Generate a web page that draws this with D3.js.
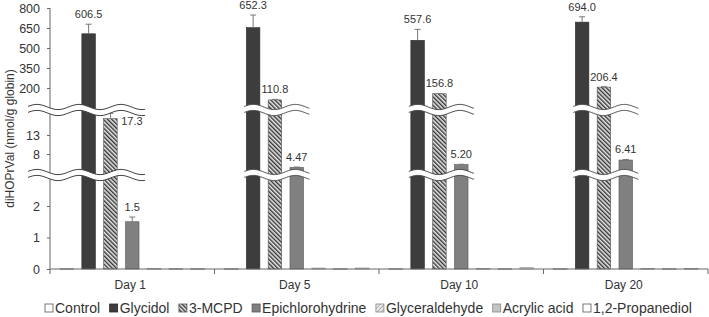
<!DOCTYPE html>
<html>
<head>
<meta charset="utf-8">
<script src="https://cdn.jsdelivr.net/npm/d3@7"></script>
<style>
  body { margin: 0; background: #fff; }
  text { font-family: "Liberation Sans", Arial, sans-serif; fill: #333; }
</style>
</head>
<body>
<div id="chart"></div>
<script>
const days = ["Day 1", "Day 5", "Day 10", "Day 20"];
const seriesNames = ["Control", "Glycidol", "3-MCPD", "Epichlorohydrine", "Glyceraldehyde", "Acrylic acid", "1,2-Propanediol"];

// values per series (one per day)
const control = [0.01, 0.01, 0.01, 0.01];
const glycidol = [606.5, 652.3, 557.6, 694.0];
const mcpd = [17.3, 110.8, 156.8, 206.4];
const epichloro = [1.5, 4.47, 5.20, 6.41];
const glyceraldehyde = [0.02, 0.03, 0.02, 0.02];
const acrylic = [0.01, 0.01, 0.01, 0.01];
const propanediol = [0.01, 0.03, 0.04, 0.02];

// error bars (upper only)
const glycidolErr = [72, 95, 82, 40];
const mcpdErr = [1.4, 4, 2, 3];
const epichloroErr = [0.15, 0.1, 0.1, 0.15];

// labels shown above bars
const labelText = {
  "Glycidol": ["606.5", "652.3", "557.6", "694.0"],
  "3-MCPD": ["17.3", "110.8", "156.8", "206.4"],
  "Epichlorohydrine": ["1.5", "4.47", "5.20", "6.41"]
};

const lowTicks = [0, 1, 2];
const midTicks = [8, 13];
const highTicks = [200, 350, 500, 650, 800];

const allValues = [control, glycidol, mcpd, epichloro, glyceraldehyde, acrylic, propanediol];
const allErr = [null, glycidolErr, mcpdErr, epichloroErr, null, null, null];

const width = 709, height = 317;
const left = 50, right = 708, baseY = 269;
const break1 = 110, break2 = 175;

const svg = d3.select("#chart").append("svg")
  .attr("width", width).attr("height", height);

const defs = svg.append("defs");
const p1 = defs.append("pattern").attr("id", "hatchMcpd")
  .attr("patternUnits", "userSpaceOnUse").attr("width", 3).attr("height", 3)
  .attr("patternTransform", "rotate(-45)");
p1.append("rect").attr("width", 3).attr("height", 3).attr("fill", "#e8e8e8");
p1.append("line").attr("x1", 0.7).attr("y1", 0).attr("x2", 0.7).attr("y2", 3)
  .attr("stroke", "#333").attr("stroke-width", 1.4);

const p2 = defs.append("pattern").attr("id", "hatchGly")
  .attr("patternUnits", "userSpaceOnUse").attr("width", 3).attr("height", 3)
  .attr("patternTransform", "rotate(45)");
p2.append("rect").attr("width", 3).attr("height", 3).attr("fill", "#eee");
p2.append("line").attr("x1", 0.5).attr("y1", 0).attr("x2", 0.5).attr("y2", 3)
  .attr("stroke", "#999").attr("stroke-width", 0.8);

const fills = ["#fff", "#3d3d3d", "url(#hatchMcpd)", "#808080", "url(#hatchGly)", "#c4c4c4", "#fff"];
const strokes = ["#777", "#2a2a2a", "#555", "#555", "#888", "#888", "#777"];

// scales
const x0 = d3.scaleBand().domain(days).range([left, right]).padding(0);
const x1 = d3.scaleBand().domain(seriesNames).range([0, x0.bandwidth()])
  .paddingInner(0.38).paddingOuter(0.46);

const yLow = d3.scaleLinear().domain([0, 2]).range([baseY, 206]);
const yMid = d3.scaleLinear().domain([8, 13]).range([154, 135]);
const yHigh = d3.scaleLinear().domain([200, 800]).range([88, 8]);

function y(v) {
  if (v <= yLow.invert(break2)) return yLow(v);
  if (v <= yMid.invert(break1)) return yMid(v);
  return yHigh(v);
}

// bars
const rows = [];
seriesNames.forEach((s, si) => {
  days.forEach((d, di) => {
    rows.push({ s, si, d, di, v: allValues[si][di], e: allErr[si] ? allErr[si][di] : 0 });
  });
});

svg.append("g").selectAll("rect").data(rows).enter().append("rect")
  .attr("x", r => x0(r.d) + x1(r.s))
  .attr("y", r => y(r.v))
  .attr("width", x1.bandwidth())
  .attr("height", r => Math.max(0.8, baseY - y(r.v)))
  .attr("fill", r => fills[r.si])
  .attr("stroke", r => strokes[r.si])
  .attr("stroke-width", 0.6);

// error bars
const errRows = rows.filter(r => r.e > 0);
const eg = svg.append("g").attr("stroke", "#777").attr("stroke-width", 1);
errRows.forEach(r => {
  const cx = x0(r.d) + x1(r.s) + x1.bandwidth() / 2;
  const yt = y(r.v + r.e);
  eg.append("line").attr("x1", cx).attr("x2", cx).attr("y1", y(r.v)).attr("y2", yt);
  eg.append("line").attr("x1", cx - 3).attr("x2", cx + 3).attr("y1", yt).attr("y2", yt);
});

// axes
const axisColor = "#666";
svg.append("line").attr("x1", left).attr("x2", left).attr("y1", yHigh(800)).attr("y2", baseY)
  .attr("stroke", axisColor);
svg.append("line").attr("x1", left).attr("x2", right).attr("y1", baseY).attr("y2", baseY)
  .attr("stroke", axisColor);

[[yLow, lowTicks], [yMid, midTicks], [yHigh, highTicks]].forEach(([sc, tv]) => {
  const g = svg.append("g").attr("transform", `translate(${left},0)`)
    .call(d3.axisLeft(sc).tickValues(tv).tickFormat(d3.format("d")).tickSize(3).tickPadding(7));
  g.select(".domain").remove();
  g.selectAll("line").attr("stroke", axisColor);
  g.selectAll("text").attr("font-size", 12.5).attr("fill", "#333")
    .style("font-family", '"Liberation Sans", Arial, sans-serif');
});

// x-axis group ticks
const bounds = days.map(d => x0(d)).concat([x0(days[days.length - 1]) + x0.bandwidth()]);
svg.append("g").selectAll("line").data(bounds).enter().append("line")
  .attr("x1", d => d).attr("x2", d => d).attr("y1", baseY).attr("y2", baseY + 5)
  .attr("stroke", axisColor);

svg.append("g").selectAll("text").data(days).enter().append("text")
  .attr("x", d => x0(d) + x0.bandwidth() / 2 - 2)
  .attr("y", 289)
  .attr("text-anchor", "middle")
  .attr("font-size", 12)
  .text(d => d);

// breaks (wavy)
const amp = 2.6, period = 42, gap = 6;
function wavePath(xa, xb, yc, phase) {
  return d3.range(xa, xb + 0.5, 1).map(xx => [xx, yc - amp * Math.cos(2 * Math.PI * (xx - phase) / period)]);
}
days.forEach((d, di) => {
  const gx = x0(d);
  const xa = di === 0 ? left - 22 : gx + x1("Glycidol") - 2;
  const xb = gx + x1("Epichlorohydrine") + x1.bandwidth() + 6;
  [break1, break2].forEach(yc => {
    const top = wavePath(xa, xb, yc - gap / 2, xa + 9);
    const bot = wavePath(xa, xb, yc + gap / 2, xa + 9);
    const area = top.concat(bot.slice().reverse());
    svg.append("path").attr("d", d3.line()(area) + "Z").attr("fill", "#fff").attr("stroke", "none");
    svg.append("path").attr("d", d3.line()(top)).attr("fill", "none").attr("stroke", "#444").attr("stroke-width", 1);
    svg.append("path").attr("d", d3.line()(bot)).attr("fill", "none").attr("stroke", "#444").attr("stroke-width", 1);
  });
});

// value labels
const lg = svg.append("g");
rows.filter(r => labelText[r.s]).forEach(r => {
  const bx = x0(r.d) + x1(r.s);
  const top = y(r.v + r.e);
  const t = labelText[r.s][r.di];
  if (top > break1 && top - break1 < 14) {
    lg.append("text").attr("x", bx + x1.bandwidth() + 4).attr("y", y(r.v) + 6)
      .attr("font-size", 11).text(t);
  } else {
    lg.append("text").attr("x", bx + x1.bandwidth() / 2).attr("y", top - 6)
      .attr("text-anchor", "middle").attr("font-size", 11).text(t);
  }
});

// y label
svg.append("text")
  .attr("transform", `translate(14,${(8 + baseY) / 2}) rotate(-90)`)
  .attr("text-anchor", "middle")
  .attr("font-size", 12)
  .text("diHOPrVal (nmol/g globin)");

// legend
const leg = svg.append("g").attr("transform", "translate(45,308)");
let lx = 0;
seriesNames.forEach((s, si) => {
  leg.append("rect").attr("x", lx).attr("y", -4).attr("width", 8).attr("height", 8)
    .attr("fill", fills[si]).attr("stroke", si === 0 || si === 6 ? "#555" : strokes[si]).attr("stroke-width", 0.8);
  const t = leg.append("text").attr("x", lx + 10).attr("y", 5).attr("font-size", 14).text(s);
  lx += 10 + t.node().getComputedTextLength() + 9.5;
});
</script>
</body>
</html>
